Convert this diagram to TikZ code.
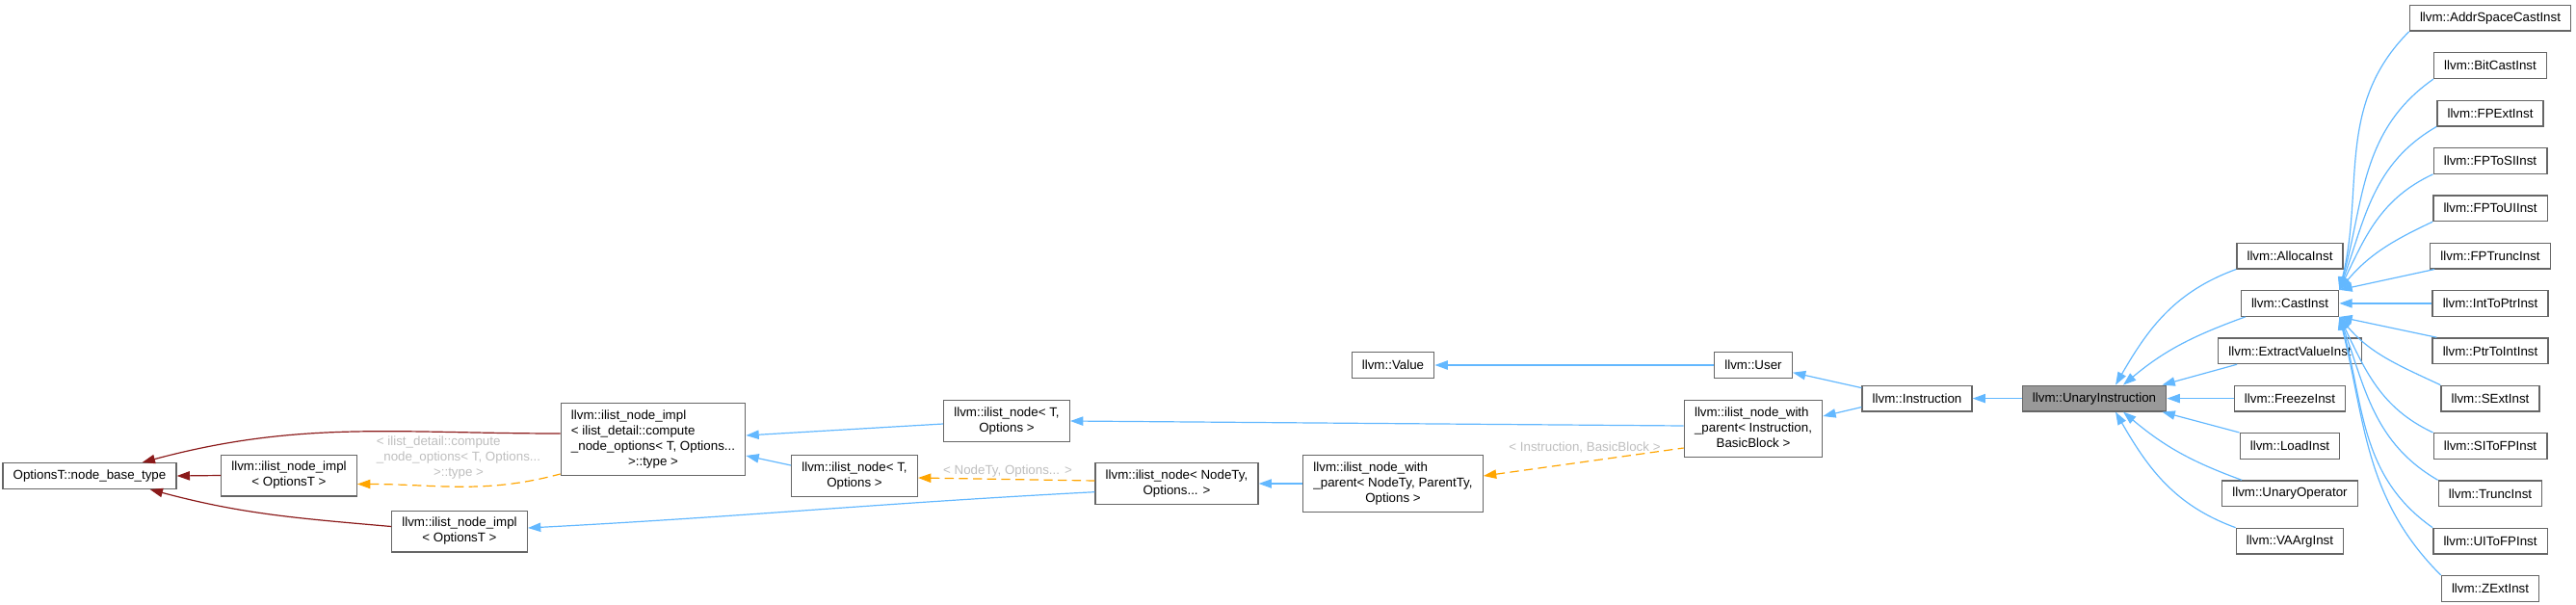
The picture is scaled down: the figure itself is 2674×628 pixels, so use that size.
\documentclass[tikz,border=0pt]{standalone}
\usepackage{fontspec}
\setmainfont{Liberation Sans}
\usepackage{tikz}
\usetikzlibrary{calc, arrows.meta}
\definecolor{EdgeBlue}{HTML}{63B8FF}
\definecolor{EdgeRed}{HTML}{8B1A1A}
\definecolor{EdgeOrange}{HTML}{FFA500}
\definecolor{BoxGray}{HTML}{666666}
\definecolor{HiFill}{HTML}{999999}
\definecolor{LabelGray}{HTML}{BEBEBE}
% left-aligned lines, last line centred
\newcommand{\gvtext}[2]{\begin{tabular}{@{}l@{}}#1\\\multicolumn{1}{@{}c@{}}{#2}\end{tabular}}

\begin{document}
\begin{tikzpicture}[x=0.75pt, y=0.75pt,
        font=\fontsize{10}{12}\selectfont,
        >={Triangle[length=10pt, width=7pt]},
        cls/.style={draw=BoxGray, fill=white, line width=1pt,
                    inner xsep=8pt, inner ysep=4pt, minimum height=20pt},
        clshl/.style={cls, fill=HiFill},
        pub/.style={<-, draw=EdgeBlue, line width=0.9pt},
        priv/.style={<-, draw=EdgeRed, line width=0.9pt},
        tmpl/.style={<-, draw=EdgeOrange, line width=0.9pt, dash pattern=on 7pt off 4pt},
        elbl/.style={text=LabelGray, inner sep=0pt}]
        \useasboundingbox (0,0) rectangle (2674,-628);

        % ilist part
        \node[cls] (base)  at (93,-494)    {OptionsT::node\_base\_type};
        \node[cls] (implA) at (300,-493.5) {\gvtext{llvm::ilist\_node\_impl}{< OptionsT >}};
        \node[cls] (implB) at (477,-551.5) {\gvtext{llvm::ilist\_node\_impl}{< OptionsT >}};
        \node[cls] (implC) at (678,-456)   {\gvtext{llvm::ilist\_node\_impl\\< ilist\_detail::compute\\\_node\_options< T, Options...}{>::type >}};
        \node[cls] (nodeA) at (1045,-437)  {\gvtext{llvm::ilist\_node< T,}{Options >}};
        \node[cls] (nodeB) at (887,-494)   {\gvtext{llvm::ilist\_node< T,}{Options >}};
        \node[cls] (nodety) at (1221.5,-502) {\gvtext{llvm::ilist\_node< NodeTy,}{Options... >}};
        \node[cls] (wpnodety) at (1446,-502) {\gvtext{llvm::ilist\_node\_with\\\_parent< NodeTy, ParentTy,}{Options >}};
        \node[cls] (wpinstr)  at (1820,-445) {\gvtext{llvm::ilist\_node\_with\\\_parent< Instruction,}{BasicBlock >}};

        % value part
        \node[cls] (value) at (1446,-379)    {llvm::Value};
        \node[cls] (user)  at (1820,-379)    {llvm::User};
        \node[cls] (instr) at (1990,-413.6)  {llvm::Instruction};
        \node[clshl] (unary) at (2174,-413.6) {llvm::UnaryInstruction};

        % direct subclasses
        \node[cls] (alloca)  at (2377,-265.55) {llvm::AllocaInst};
        \node[cls] (cast)    at (2377,-314.9)  {llvm::CastInst};
        \node[cls] (extract) at (2377,-364.25) {llvm::ExtractValueInst};
        \node[cls] (freeze)  at (2377,-413.6)  {llvm::FreezeInst};
        \node[cls] (load)    at (2377,-462.95) {llvm::LoadInst};
        \node[cls] (unaryop) at (2377,-512.3)  {llvm::UnaryOperator};
        \node[cls] (vaarg)   at (2377,-561.65) {llvm::VAArgInst};

        % cast subclasses
        \node[cls] (addrcast) at (2585,-18.8)   {llvm::AddrSpaceCastInst};
        \node[cls] (bitcast)  at (2585,-68.15)  {llvm::BitCastInst};
        \node[cls] (fpext)    at (2585,-117.5)  {llvm::FPExtInst};
        \node[cls] (fptosi)   at (2585,-166.85) {llvm::FPToSIInst};
        \node[cls] (fptoui)   at (2585,-216.2)  {llvm::FPToUIInst};
        \node[cls] (fptrunc)  at (2585,-265.55) {llvm::FPTruncInst};
        \node[cls] (inttoptr) at (2585,-314.9)  {llvm::IntToPtrInst};
        \node[cls] (ptrtoint) at (2585,-364.25) {llvm::PtrToIntInst};
        \node[cls] (sext)     at (2585,-413.6)  {llvm::SExtInst};
        \node[cls] (sitofp)   at (2585,-462.95) {llvm::SIToFPInst};
        \node[cls] (trunc)    at (2585,-512.3)  {llvm::TruncInst};
        \node[cls] (uitofp)   at (2585,-561.65) {llvm::UIToFPInst};
        \node[cls] (zext)     at (2585,-611)    {llvm::ZExtInst};

        % edge labels
        \node[elbl] (lblimpl) at (476,-475)  {\gvtext{< ilist\_detail::compute\\\_node\_options< T, Options...}{>::type >}};
        \node[elbl] (lblnode) at (1046,-489) {< NodeTy, Options... >};
        \node[elbl] (lblwp)   at (1645,-465) {< Instruction, BasicBlock >};

        % private
        \draw[priv] (base.east) -- (implA.west);
        \draw[priv] ($(base.north east)+(-36,0)$) to[out=15, in=180] ($(implC.west)+(0,6)$);
        \draw[priv] ($(base.south east)+(-28,0)$) to[out=-15, in=175] ($(implB.west)+(0,5)$);

        % template instances
        \draw[tmpl] ($(implA.east)+(0,-9)$) to[out=0, in=195] ($(implC.south west)+(0,2)$);
        \draw[tmpl] ($(nodeB.east)+(0,-2)$) -- ($(nodety.west)+(0,3)$);
        \draw[tmpl] ($(wpnodety.east)+(0,8)$) -- ($(wpinstr.west)+(0,-20)$);

        % public
        \draw[pub] ($(implC.east)+(0,4)$) -- ($(nodeA.west)+(0,-3)$);
        \draw[pub] ($(implC.east)+(0,-17)$) -- ($(nodeB.west)+(0,11)$);
        \draw[pub] ($(implB.east)+(0,3.5)$) to[out=3, in=183] ($(nodety.west)+(0,-8.7)$);
        \draw[pub] (nodety.east) -- (wpnodety.west);
        \draw[pub] (nodeA.east) -- ($(wpinstr.west)+(0,3)$);
        \draw[pub] (value.east) -- (user.west);
        \draw[pub] ($(user.east)+(0,-7.7)$) -- ($(instr.west)+(0,11)$);
        \draw[pub] ($(wpinstr.east)+(0,13)$) -- ($(instr.west)+(0,-9)$);
        \draw[pub] (instr.east) -- (unary.west);

        \draw[pub] ($(unary.north)+(22,0)$) to[out=60, in=200] (alloca.south west);
        \draw[pub] ($(unary.north)+(30,0)$) to[out=40, in=200] ($(cast.south west)+(5,0)$);
        \draw[pub] ($(unary.north east)+(-5,0)$) -- ($(extract.south west)+(20,0)$);
        \draw[pub] (unary.east) -- (freeze.west);
        \draw[pub] ($(unary.south east)+(-5,0)$) -- (load.north west);
        \draw[pub] ($(unary.south)+(30,0)$) to[out=-40, in=160] ($(unaryop.north west)+(21,0)$);
        \draw[pub] ($(unary.south)+(22,0)$) to[out=-60, in=160] (vaarg.north west);

        \draw[pub] (cast.north east) to[out=76, in=225] (addrcast.south west);
        \draw[pub] (cast.north east) to[out=74, in=215] (bitcast.south west);
        \draw[pub] (cast.north east) to[out=70, in=210] (fpext.south west);
        \draw[pub] (cast.north east) to[out=64, in=205] (fptosi.south west);
        \draw[pub] (cast.north east) to[out=50, in=205] (fptoui.south west);
        \draw[pub] (cast.north east) -- ($(fptrunc.south west)+(5,0)$);
        \draw[pub] (cast.east) -- (inttoptr.west);
        \draw[pub] (cast.south east) -- ($(ptrtoint.north west)+(5,0)$);
        \draw[pub] (cast.south east) to[out=-50, in=155] (sext.north west);
        \draw[pub] (cast.south east) to[out=-64, in=155] (sitofp.north west);
        \draw[pub] (cast.south east) to[out=-70, in=150] (trunc.north west);
        \draw[pub] (cast.south east) to[out=-74, in=145] (uitofp.north west);
        \draw[pub] (cast.south east) to[out=-76, in=135] (zext.north west);
\end{tikzpicture}
\end{document}
